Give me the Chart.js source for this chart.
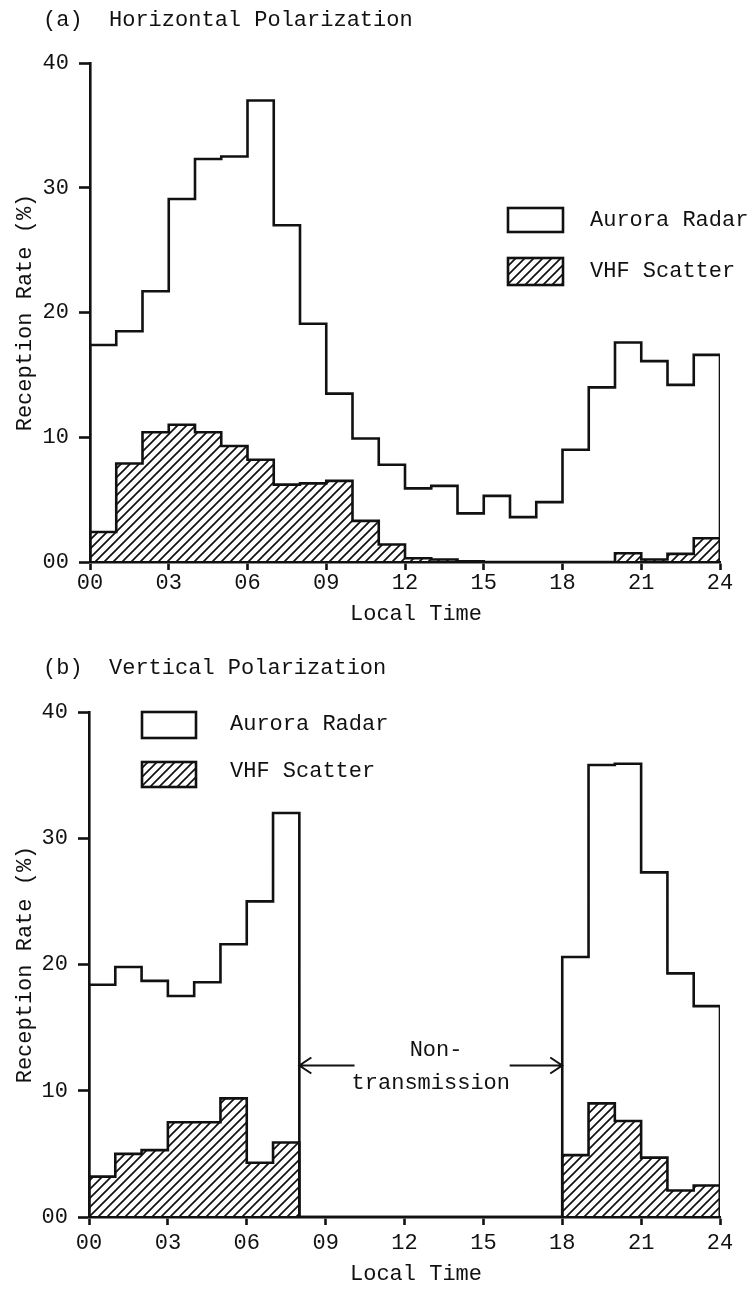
<!DOCTYPE html>
<html><head><meta charset="utf-8">
<script src="https://cdn.jsdelivr.net/npm/chart.js@4/dist/chart.umd.min.js"></script>
<style>
html,body{margin:0;padding:0;background:#fff;}
#wrap{position:relative;width:753px;height:1289px;overflow:hidden;}
.c{position:absolute;left:0;}
</style></head><body>
<div id="wrap">
<div class="c" style="top:0;width:753px;height:640px"><canvas id="ca"></canvas></div>
<div class="c" style="top:640px;width:753px;height:649px"><canvas id="cb"></canvas></div>
</div>
<script>
// ---------- data ----------
const binStarts = [0,1,2,3,4,5,6,7,8,9,10,11,12,13,14,15,16,17,18,19,20,21,22,23];
const binEnd = 24;
const xTickValues = [0,3,6,9,12,15,18,21,24];
const xTickLabels = ["00","03","06","09","12","15","18","21","24"];
const yTickValues = [0,10,20,30,40];
const yTickLabels = ["00","10","20","30","40"];
const horizAurora = [17.4,18.5,21.7,29.1,32.3,32.5,37.0,27.0,19.1,13.5,9.9,7.8,5.9,6.1,3.9,5.3,3.6,4.8,9.0,14.0,17.6,16.1,14.2,16.6];
const horizVHF    = [2.4,7.9,10.4,11.0,10.4,9.3,8.2,6.2,6.3,6.5,3.3,1.4,0.3,0.2,0.05,0,0,0,0,0,0.7,0.2,0.65,1.9];
const vertAurora  = [18.4,19.8,18.7,17.5,18.6,21.6,25.0,32.0,null,null,null,null,null,null,null,null,null,null,20.6,35.8,35.9,27.3,19.3,16.7];
const vertVHF     = [3.2,5.0,5.3,7.5,7.5,9.4,4.3,5.9,null,null,null,null,null,null,null,null,null,null,4.9,9.0,7.6,4.7,2.1,2.5];
const seriesNames = ["Aurora Radar","VHF Scatter"];
const panelTitles = ["(a)  Horizontal Polarization","(b)  Vertical Polarization"];
const axisTitleX = "Local Time";
const axisTitleY = "Reception Rate (%)";
const gapNote = ["Non-","transmission"];
const gapStart = 8, gapEnd = 18;

// ---------- style ----------
const INK = '#111';
const FAM = "'Liberation Mono', 'DejaVu Sans Mono', monospace";
const FS = 22;
const FONT = FS + "px " + FAM;
const LW = 2.6;

function stepPoints(vals){
  const pts = [{x: binStarts[0], y: 0}];
  binStarts.forEach((b,i)=>pts.push({x: b, y: vals[i]==null ? 0 : vals[i]}));
  pts.push({x: binEnd, y: 0});
  return pts;
}

function makeHatch(ctx){
  const s = 9, c = document.createElement('canvas');
  c.width = s; c.height = s;
  const g = c.getContext('2d');
  g.strokeStyle = INK; g.lineWidth = 1.7;
  g.beginPath();
  g.moveTo(0, s); g.lineTo(s, 0);
  g.moveTo(-s/2, s/2); g.lineTo(s/2, -s/2);
  g.moveTo(s/2, s*1.5); g.lineTo(s*1.5, s/2);
  g.stroke();
  return ctx.createPattern(c, 'repeat');
}

function decorPlugin(cfg){
  return {
    id: 'decor',
    afterDraw(chart){
      const ctx = chart.ctx;
      const hatch = makeHatch(ctx);
      ctx.save();
      ctx.fillStyle = INK; ctx.strokeStyle = INK;
      ctx.font = FONT; ctx.textBaseline = 'middle'; ctx.textAlign = 'left';
      ctx.fillText(cfg.title, 43, cfg.titleY);
      ctx.textAlign = 'center';
      ctx.fillText(axisTitleX, 416, cfg.xTitleY);
      // legend
      ctx.lineWidth = LW;
      cfg.legend.forEach((L,i)=>{
        if (i === 1){ ctx.fillStyle = hatch; ctx.fillRect(L.x, L.y, L.w, L.h); }
        ctx.strokeRect(L.x, L.y, L.w, L.h);
        ctx.fillStyle = INK; ctx.textAlign = 'left';
        ctx.fillText(seriesNames[i], L.tx, L.ty);
      });
      if (cfg.gap){
        const xs = chart.scales.x, ys = chart.scales.y;
        const yA = ys.getPixelForValue(12.0);
        const drawArrow = (from, to) => {
          const x0 = xs.getPixelForValue(from), x1 = xs.getPixelForValue(to);
          const dir = Math.sign(x1 - x0);
          ctx.lineWidth = 2;
          ctx.beginPath();
          ctx.moveTo(x0, yA); ctx.lineTo(x1, yA);
          ctx.moveTo(x1 - dir*12, yA - 8); ctx.lineTo(x1, yA); ctx.lineTo(x1 - dir*12, yA + 8);
          ctx.stroke();
        };
        drawArrow(10.1, gapStart);
        drawArrow(16.0, gapEnd);
        ctx.textAlign = 'center';
        ctx.fillText(gapNote[0], xs.getPixelForValue(13.2), ys.getPixelForValue(13.2));
        ctx.fillText(gapNote[1], xs.getPixelForValue(13.0), ys.getPixelForValue(10.6));
      }
      ctx.restore();
    }
  };
}

function makeChart(id, aur, vhf, opt){
  const ctx = document.getElementById(id).getContext('2d');
  const hatch = makeHatch(ctx);
  return new Chart(ctx, {
    type: 'line',
    data: {
      datasets: [
        { label: seriesNames[0], data: stepPoints(aur), stepped: true, borderColor: INK,
          borderWidth: LW, pointRadius: 0, fill: false, borderJoinStyle: 'miter', order: 0 },
        { label: seriesNames[1], data: stepPoints(vhf), stepped: true, borderColor: INK,
          borderWidth: LW, pointRadius: 0, fill: 'origin', backgroundColor: hatch,
          borderJoinStyle: 'miter', order: 1 }
      ]
    },
    options: {
      responsive: true, maintainAspectRatio: false, animation: false, devicePixelRatio: 1,
      layout: { padding: { left: 0, right: 33, top: opt.top, bottom: 0 } },
      plugins: { legend: { display: false }, tooltip: { enabled: false } },
      scales: {
        x: {
          type: 'linear', min: 0, max: binEnd,
          afterBuildTicks: s => { s.ticks = xTickValues.map(v => ({ value: v })); },
          afterFit: s => { s.height = opt.xh; },
          ticks: { callback: (v, i) => xTickLabels[i], autoSkip: false, maxRotation: 0,
                   padding: opt.xpad, color: INK, font: { family: FAM, size: FS } },
          grid: { drawOnChartArea: false, drawTicks: true, tickLength: 8, tickWidth: LW, tickColor: INK },
          border: { display: true, color: INK, width: LW }
        },
        y: {
          min: 0, max: 40,
          afterBuildTicks: s => { s.ticks = yTickValues.map(v => ({ value: v })); },
          afterFit: s => { s.width = opt.yw; },
          ticks: { callback: (v, i) => yTickLabels[i], padding: 10, color: INK,
                   font: { family: FAM, size: FS } },
          grid: { drawOnChartArea: false, drawTicks: true, tickLength: 11, tickWidth: LW, tickColor: INK },
          border: { display: true, color: INK, width: LW },
          title: { display: true, text: axisTitleY, color: INK, padding: { top: 12, bottom: 0 },
                   font: { family: FAM, size: FS } }
        }
      }
    },
    plugins: [decorPlugin(opt.decor)]
  });
}

makeChart('ca', horizAurora, horizVHF, {
  top: 63, xh: 78, yw: 90, xpad: 0,
  decor: {
    title: panelTitles[0], titleY: 20, xTitleY: 614,
    legend: [
      { x: 508, y: 208, w: 55, h: 24, tx: 590, ty: 220 },
      { x: 508, y: 258, w: 55, h: 27, tx: 590, ty: 271 }
    ]
  }
});

makeChart('cb', vertAurora, vertVHF, {
  top: 72, xh: 72, yw: 89, xpad: 5,
  decor: {
    title: panelTitles[1], titleY: 28, xTitleY: 634, gap: true,
    legend: [
      { x: 142, y: 72, w: 54, h: 26, tx: 230, ty: 84 },
      { x: 142, y: 122, w: 54, h: 25, tx: 230, ty: 131 }
    ]
  }
});
</script>
</body></html>
